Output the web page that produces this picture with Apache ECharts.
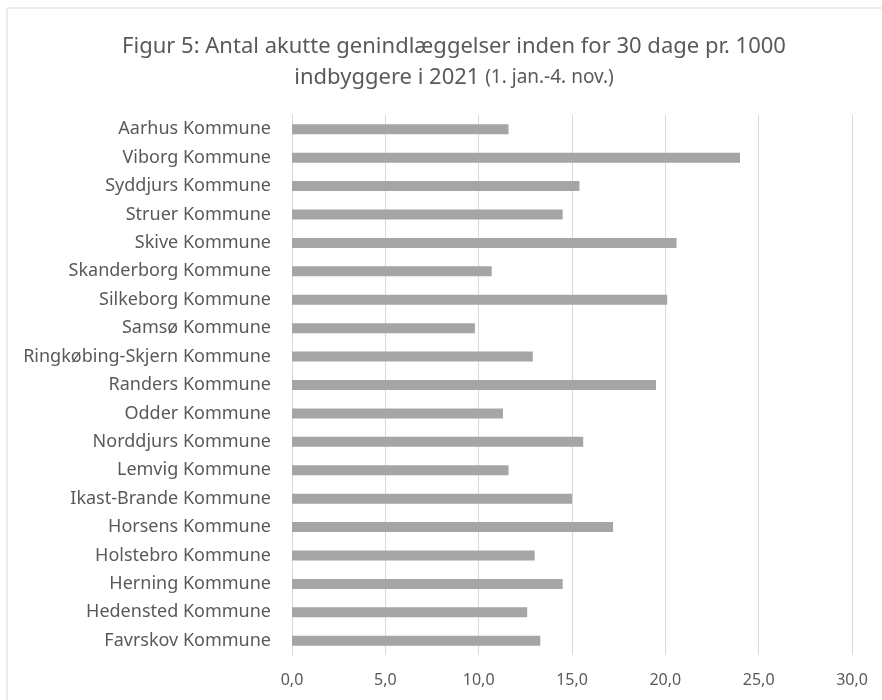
<!DOCTYPE html>
<html>
<head>
<meta charset="utf-8">
<script src="https://cdn.jsdelivr.net/npm/echarts@6/dist/echarts.min.js"></script>
<style>
  body { margin: 0; background: #fff; }
  #chart { width: 882px; height: 700px; }
</style>
</head>
<body>
<div id="chart"></div>
<script>
// kommuner, fra toppen og ned
var kommuner = [
  'Aarhus Kommune', 'Viborg Kommune', 'Syddjurs Kommune', 'Struer Kommune',
  'Skive Kommune', 'Skanderborg Kommune', 'Silkeborg Kommune', 'Samsø Kommune',
  'Ringkøbing-Skjern Kommune', 'Randers Kommune', 'Odder Kommune', 'Norddjurs Kommune',
  'Lemvig Kommune', 'Ikast-Brande Kommune', 'Horsens Kommune', 'Holstebro Kommune',
  'Herning Kommune', 'Hedensted Kommune', 'Favrskov Kommune'
]
// genindlæggelser pr. 1000 indbyggere
var genindlaeggelser = [
  11.6, 24.0, 15.4, 14.5,
  20.6, 10.7, 20.1, 9.8,
  12.9, 19.5, 11.3, 15.6,
  11.6, 15.0, 17.2, 13.0,
  14.5, 12.6, 13.3
]
var xMin = 0
var xMax = 30
var xStep = 5

var font = 'Noto Sans'
var tekst = '#595959'

var chart = echarts.init(document.getElementById('chart'))
chart.setOption({
  animation: false,
  textStyle: { fontFamily: font },
  graphic: [
    {
      type: 'rect',
      shape: { x: 7, y: 8, width: 900, height: 720 },
      style: { fill: 'none', stroke: '#d9d9d9', lineWidth: 1 }
    }
  ],
  title: {
    text: '{a|Figur 5: Antal akutte genindlæggelser inden for 30 dage pr. 1000}\n{a|indbyggere i 2021 }{b|(1. jan.-4. nov.)}',
    left: 449,
    textAlign: 'center', // midten lidt til højre som i originalen
    top: 26,
    textStyle: {
      rich: {
        a: { fontFamily: font, fontSize: 22, fontWeight: 'normal', color: tekst, lineHeight: 31 },
        b: { fontFamily: font, fontSize: 19, fontWeight: 'normal', color: tekst, lineHeight: 31 }
      }
    }
  },
  grid: { left: 292, right: 30, top: 115, bottom: 45 },
  xAxis: {
    type: 'value',
    min: xMin,
    max: xMax,
    interval: xStep,
    axisLine: { show: false },
    axisTick: { show: false },
    splitLine: { lineStyle: { color: '#d9d9d9', width: 1 } },
    axisLabel: {
      color: tekst,
      fontSize: 16,
      margin: 17,
      formatter: function (v) { return v.toFixed(1).replace('.', ',') }
    }
  },
  yAxis: {
    type: 'category',
    data: kommuner,
    inverse: true,
    axisLine: { show: true, lineStyle: { color: '#d9d9d9' } },
    axisTick: { show: false },
    axisLabel: { color: tekst, fontSize: 18, margin: 21 }
  },
  series: [
    {
      type: 'bar',
      data: genindlaeggelser,
      barWidth: 10,
      itemStyle: { color: '#a5a5a5' }
    }
  ]
})
</script>
</body>
</html>
